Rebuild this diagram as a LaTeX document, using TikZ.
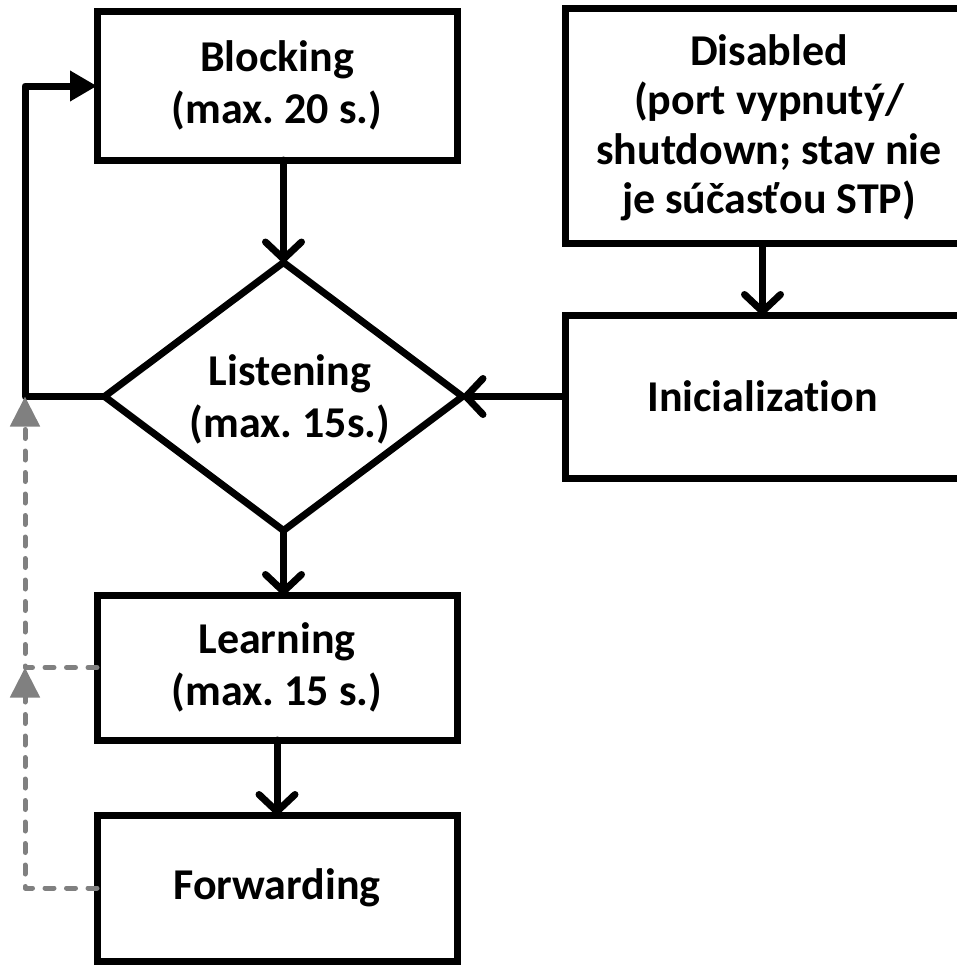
\documentclass[tikz,border=0pt]{standalone}
\usepackage{fontspec}
\setmainfont{Carlito}[Ligatures=NoCommon]
\usetikzlibrary{arrows.meta,shapes.geometric}
\frenchspacing

\tikzset{
  every node/.style={font=\fontsize{44}{52}\selectfont\bfseries, align=center, outer sep=0pt},
  statebox/.style={draw=black, line width=7pt, rectangle, inner sep=0pt},
  decision/.style={draw=black, line width=7pt, diamond, inner sep=0pt, line join=miter},
  flow/.style={draw=black, line width=7pt, line cap=round,
    -{Straight Barb[length=17pt,width=36pt,line width=7pt,round]}},
  backflow/.style={draw=black, line width=7pt, line join=round,
    -{Triangle[length=27pt,width=29pt]}},
  retry/.style={draw=gray, line width=5pt, line cap=round, line join=round,
    dash pattern=on 9pt off 12.5pt,
    -{Triangle[length=30pt,width=29pt]}}
}

\begin{document}
\begin{tikzpicture}[x=1pt,y=-1pt]
  \useasboundingbox (0,0) rectangle (956,966);

  % states
  \node[statebox, minimum width=360pt, minimum height=148.5pt] (blk) at (277,85.75)
    {Blocking\\(max. 20 s.)};
  \node[statebox, minimum width=395pt, minimum height=235.3pt] (dis) at (762.5,126.3) {};
  \node[font=\fontsize{44}{49.5}\selectfont\bfseries] (distxt) at (769,128)
    {Disabled\\(port vypnutý/\\shutdown; stav nie\\je súčasťou STP)};
  \node[statebox, minimum width=395pt, minimum height=163pt] (ini) at (762.5,396.5)
    {Inicialization};
  \node[decision, minimum width=358pt, minimum height=268pt] (lst) at (283.5,396.5) {};
  \node (lsttxt) at (290,399) {Listening\\(max. 15s.)};
  \node[statebox, minimum width=360pt, minimum height=145pt] (lrn) at (277,667.5)
    {Learning\\(max. 15 s.)};
  \node[statebox, minimum width=360pt, minimum height=146pt] (fwd) at (277,888)
    {Forwarding};

  % left rail for the return paths
  \coordinate (rail) at (25,86);

  % main transitions
  \draw[flow] (blk.south -| lst.north) -- (lst.north);
  \draw[flow] (dis.south) -- (ini.north);
  \draw[flow] (ini.west) -- (lst.east);
  \draw[flow] (lst.south) -- (lrn.north -| lst.south);
  \draw[flow] (lrn.south) -- (fwd.north);

  % listening back to blocking
  \draw[backflow] (lst.west) -| (rail) -- (blk.west |- rail);

  % fallback paths
  \draw[retry] (fwd.west) -| (rail |- lrn.west);
  \draw[retry] (lrn.west) -| (rail |- lst.west);
\end{tikzpicture}
\end{document}
